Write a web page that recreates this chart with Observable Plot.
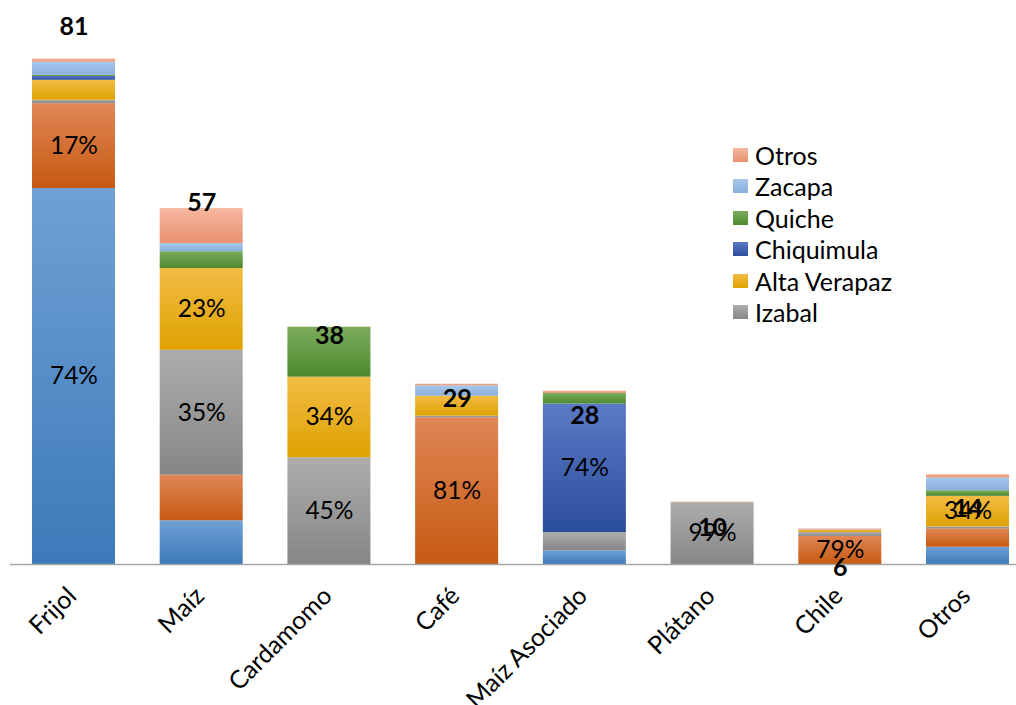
<!DOCTYPE html>
<html>
<head>
<meta charset="utf-8">
<script src="https://cdn.jsdelivr.net/npm/d3@7"></script>
<script src="https://cdn.jsdelivr.net/npm/@observablehq/plot@0.6"></script>
<style>
  body { margin: 0; background: #fff; }
  #wrap { position: relative; width: 1016px; height: 705px; overflow: hidden; font-family: Lato, "Liberation Sans", sans-serif; }
  #legend { position: absolute; left: 733px; top: 139px; }
  .row { display: flex; align-items: center; height: 31.5px; font-size: 25px; color: #000; white-space: nowrap; }
  .sw { width: 15px; height: 14px; margin-right: 7px; flex: none; }
</style>
</head>
<body>
<div id="wrap"><div id="legend"></div></div>
<script>
// ---- data ----
const categories = ["Frijol", "Maíz", "Cardamomo", "Café", "Maíz Asociado", "Plátano", "Chile", "Otros"];
// stack order, bottom to top
const seriesNames = ["Serie 1", "Serie 2", "Izabal", "Alta Verapaz", "Chiquimula", "Quiche", "Zacapa", "Otros"];
const serie1      = [60.2,  7.0,  0,    0,     2.2,  0,   0,    2.76];
const serie2      = [13.6,  7.3,  0,    23.5,  0,    0,   4.5,  2.94];
const izabal      = [0.55,  20.0, 17.1, 0.26,  2.9,  9.9, 0.6,  0.32];
const altaVerapaz = [3.2,   13.1, 12.9, 3.2,   0,    0,   0.35, 4.89];
const chiquimula  = [0.6,   0,    0,    0,     20.6, 0,   0,    0];
const quiche      = [0.2,   2.7,  8.0,  0,     1.7,  0,   0,    0.91];
const zacapa      = [2.1,   1.3,  0,    1.66,  0,    0,   0.1,  2.03];
const otros       = [0.5,   5.6,  0,    0.26,  0.37, 0.1, 0.15, 0.53];
const seriesValues = [serie1, serie2, izabal, altaVerapaz, chiquimula, quiche, zacapa, otros];
// where the total labels sit (value units)
const totalLabelAt = [86, 57.9, 36.6, 26.5, 23.8, 5.9, -0.5, 8.9];
// segments that carry a percentage label
const pctShown = [
  ["Frijol", "Serie 1"], ["Frijol", "Serie 2"],
  ["Maíz", "Izabal"], ["Maíz", "Alta Verapaz"],
  ["Cardamomo", "Izabal"], ["Cardamomo", "Alta Verapaz"],
  ["Café", "Serie 2"], ["Maíz Asociado", "Chiquimula"],
  ["Plátano", "Izabal"], ["Chile", "Serie 2"], ["Otros", "Alta Verapaz"]
];
const legendSeries = ["Otros", "Zacapa", "Quiche", "Chiquimula", "Alta Verapaz", "Izabal"];

// ---- styles ----
const gradStops = [
  ["#6FA1D5", "#3D7AB9"],
  ["#E08656", "#C65A12"],
  ["#ADADAD", "#868686"],
  ["#F2BC45", "#DEA200"],
  ["#5B7AC6", "#2B4E9C"],
  ["#7CAC5E", "#4C8A2D"],
  ["#A8C6EB", "#88B0DD"],
  ["#F6B8A0", "#E8916F"]
];

// ---- derived table ----
const totals = categories.map((c, i) => d3.sum(seriesValues, s => s[i]));
const shownSet = new Set(pctShown.map(([c, s]) => c + "|" + s));
const tidy = [];
seriesNames.forEach((s, j) => categories.forEach((c, i) => {
  tidy.push({cat: c, series: s, value: seriesValues[j][i], total: totals[i]});
}));

const font = 'Lato, "Liberation Sans", sans-serif';
const plot = Plot.plot({
  width: 1016,
  height: 705,
  marginLeft: 10,
  marginRight: 0,
  marginTop: 2,
  marginBottom: 141,
  x: {domain: categories, range: [10, 1031], paddingInner: 0.35, paddingOuter: 0.172, round: false, axis: null},
  y: {domain: [0, 90], axis: null},
  color: {domain: seriesNames, range: seriesNames.map((s, i) => `url(#grad${i})`)},
  style: {fontFamily: font, background: "white"},
  marks: [
    Plot.barY(tidy, {x: "cat", y: "value", fill: "series"}),
    Plot.ruleY([0], {stroke: "#a6a6a6", strokeWidth: 1.5}),
    Plot.text(tidy, Plot.stackY({
      x: "cat", y: "value",
      text: d => shownSet.has(d.cat + "|" + d.series) ? Math.round(d.value / d.total * 100) + "%" : null,
      fontSize: 24.5, fill: "black"
    })),
    Plot.text(categories, {
      x: d => d, y: (d, i) => totalLabelAt[i],
      text: (d, i) => String(Math.round(totals[i])),
      fontSize: 25, fontWeight: "bold", fill: "black"
    }),
    Plot.text(categories, {
      x: d => d, frameAnchor: "bottom", text: d => d,
      rotate: -45, textAnchor: "end", dx: 4, dy: 33, fontSize: 25, fill: "black"
    })
  ]
});

const defs = d3.select(plot).insert("defs", ":first-child");
gradStops.forEach((st, i) => {
  const g = defs.append("linearGradient").attr("id", "grad" + i)
    .attr("x1", 0).attr("y1", 0).attr("x2", 0).attr("y2", 1);
  g.append("stop").attr("offset", "0%").attr("stop-color", st[0]);
  g.append("stop").attr("offset", "100%").attr("stop-color", st[1]);
});

document.getElementById("wrap").prepend(plot);

const legend = d3.select("#legend");
legendSeries.forEach(s => {
  const i = seriesNames.indexOf(s);
  const row = legend.append("div").attr("class", "row");
  row.append("div").attr("class", "sw")
    .style("background", `linear-gradient(${gradStops[i][0]}, ${gradStops[i][1]})`);
  row.append("span").text(s);
});
</script>
</body>
</html>
